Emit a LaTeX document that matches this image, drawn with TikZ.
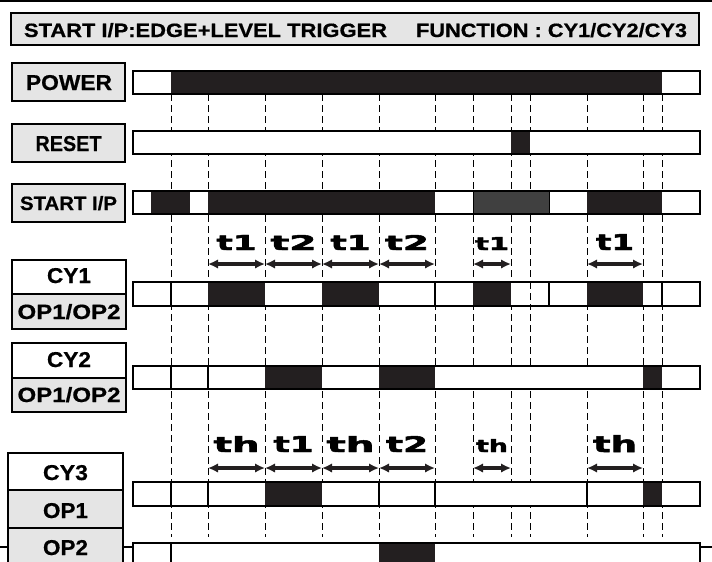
\documentclass[tikz,border=0pt]{standalone}
\usepackage{graphicx}
\usepackage{fontspec}
\setmainfont{Liberation Sans}[BoldFeatures={FakeBold=0.6}]
\newfontfamily\heavyfont{DejaVu Sans}[BoldFeatures={FakeBold=2.2}]
\usetikzlibrary{arrows.meta}
\definecolor{lbl}{RGB}{229,229,229}
\definecolor{blk}{RGB}{35,31,32}
\definecolor{dk}{RGB}{64,64,64}
\newcommand{\lab}[3]{\resizebox{#1pt}{#2pt}{\bfseries #3}}
\newcommand{\tlab}[3]{\resizebox{#1pt}{#2pt}{\heavyfont\bfseries #3}}
\begin{document}
\begin{tikzpicture}[x=1pt,y=-1pt,
  lblbox/.style={draw=black,line width=1.3pt,fill=lbl},
  wbox/.style={draw=black,line width=1.3pt,fill=white},
  outline/.style={draw=black,line width=1.3pt},
  sepline/.style={draw=black,line width=1.2pt},
  guide/.style={draw=black,line width=0.9pt,dash pattern=on 7pt off 4pt},
  dur/.style={draw=blk,line width=3.2pt,arrows={Latex[length=10pt,width=9.5pt]-Latex[length=10pt,width=9.5pt]}},
  txt/.style={inner sep=0pt,outer sep=0pt,anchor=base}]
\useasboundingbox (0,0) rectangle (712,562);
\clip (0,0) rectangle (712,562);
\fill[white] (0,0) rectangle (712,562);
\draw[line width=1.5pt] (0,1) -- (712,1);

% title
\draw[lblbox] (11,13) rectangle (699,45);
\node[txt,anchor=base west] (title1) at (24,37) {\lab{363}{14}{START I/P:EDGE+LEVEL TRIGGER}};
\node[txt,anchor=base west] (title2) at (416,37) {\lab{271}{14}{FUNCTION : CY1/CY2/CY3}};

% guide lines
\foreach \x in {171,208,265,322,379,435,473,511,530,587,643,662}
  \draw[guide] (\x,94) -- (\x,537);

% label boxes
\draw[lblbox] (12,63) rectangle (125,101);
\node[txt] (power) at (69,90) {\lab{86}{15}{POWER}};
\draw[lblbox] (12,124) rectangle (125,162);
\node[txt] (reset) at (68.5,151) {\lab{66}{15}{RESET}};
\draw[lblbox] (12,184) rectangle (125,222);
\node[txt] (start) at (68.5,210) {\lab{97}{14}{START I/P}};

\draw[wbox] (12,260) rectangle (126,294);
\draw[lblbox] (12,294) rectangle (126,329);
\node[txt] (cy1) at (69,283) {\lab{44}{15}{CY1}};
\node[txt] (op12a) at (69,319) {\lab{103}{15}{OP1/OP2}};

\draw[wbox] (12,343) rectangle (126,378);
\draw[lblbox] (12,378) rectangle (126,412);
\node[txt] (cy2) at (69,367) {\lab{44}{15}{CY2}};
\node[txt] (op12b) at (69,402) {\lab{103}{15}{OP1/OP2}};

\draw[line width=1.3pt] (0,547) -- (8,547);
\draw[line width=1.3pt] (123,547) -- (133,547);
\draw[line width=1.3pt] (700,547) -- (712,547);
\draw[wbox] (8,453) rectangle (123,490);
\draw[lblbox] (8,490) rectangle (123,528);
\draw[lblbox] (8,528) rectangle (123,580);
\node[txt] (cy3) at (65.5,480) {\lab{45}{15}{CY3}};
\node[txt] (op1) at (65.5,518) {\lab{45}{15}{OP1}};
\node[txt] (op2) at (65.5,555) {\lab{45}{15}{OP2}};

% POWER bar
\fill[white] (133,71) rectangle (700,94);
\fill[blk] (171,71) rectangle (662,94);
\draw[outline] (133,71) rectangle (700,94);

% RESET bar
\fill[white] (133,131) rectangle (700,154);
\fill[blk] (511,131) rectangle (530,154);
\draw[outline] (133,131) rectangle (700,154);

% START I/P bar
\fill[white] (133,191) rectangle (700,214);
\fill[blk] (151,191) rectangle (190,214);
\fill[blk] (208,191) rectangle (435,214);
\filldraw[fill=dk,draw=black,line width=0.8pt] (473,191) rectangle (549,214);
\fill[blk] (587,191) rectangle (662,214);
\draw[outline] (133,191) rectangle (700,214);

% CY1 bar
\fill[white] (133,282) rectangle (700,306);
\foreach \a/\b in {208/265,322/379,473/511,587/643}
  \fill[blk] (\a,282) rectangle (\b,306);
\draw[guide] (530,282) -- (530,306);
\foreach \x in {171,435,549,662}
  \draw[sepline] (\x,282) -- (\x,306);
\draw[outline] (133,282) rectangle (700,306);

% CY2 bar
\fill[white] (133,366) rectangle (700,389);
\foreach \a/\b in {265/322,379/435,643/662}
  \fill[blk] (\a,366) rectangle (\b,389);
\foreach \x in {171,208}
  \draw[sepline] (\x,366) -- (\x,389);
\draw[outline] (133,366) rectangle (700,389);

% CY3 OP1 bar
\fill[white] (133,482) rectangle (700,506);
\foreach \a/\b in {265/322,643/662}
  \fill[blk] (\a,482) rectangle (\b,506);
\foreach \x in {171,208,379,435,587}
  \draw[sepline] (\x,482) -- (\x,506);
\draw[outline] (133,482) rectangle (700,506);

% OP2 bar
\fill[white] (133,543) rectangle (700,580);
\fill[blk] (379,543) rectangle (435,580);
\draw[sepline] (171,543) -- (171,580);
\draw[outline] (133,543) rectangle (700,580);

% timing labels row 1
\node[txt] (a1) at (236.5,250) {\tlab{40}{15}{t1}};
\node[txt] (a2) at (293.5,250) {\tlab{46}{15}{t2}};
\node[txt] (a3) at (350.5,250) {\tlab{40}{15}{t1}};
\node[txt] (a4) at (407,250) {\tlab{44}{15}{t2}};
\node[txt] (a5) at (492,250) {\tlab{34}{13}{t1}};
\node[txt] (a6) at (615,250) {\tlab{38}{16}{t1}};
\foreach \a/\b in {208/265,265/322,322/379,379/435,473/511,587/643}
  \draw[dur] (\a,264) -- (\b,264);

% timing labels row 2
\node[txt] (b1) at (236.5,452) {\tlab{46}{16}{th}};
\node[txt] (b2) at (293.5,452) {\tlab{40}{16}{t1}};
\node[txt] (b3) at (350.5,452) {\tlab{48}{16}{th}};
\node[txt] (b4) at (407,452) {\tlab{42}{16}{t2}};
\node[txt] (b5) at (492,452) {\tlab{32}{13}{th}};
\node[txt] (b6) at (615,452) {\tlab{44}{17}{th}};
\foreach \a/\b in {208/265,265/322,322/379,379/435,473/511,587/643}
  \draw[dur] (\a,468) -- (\b,468);
\end{tikzpicture}
\end{document}
